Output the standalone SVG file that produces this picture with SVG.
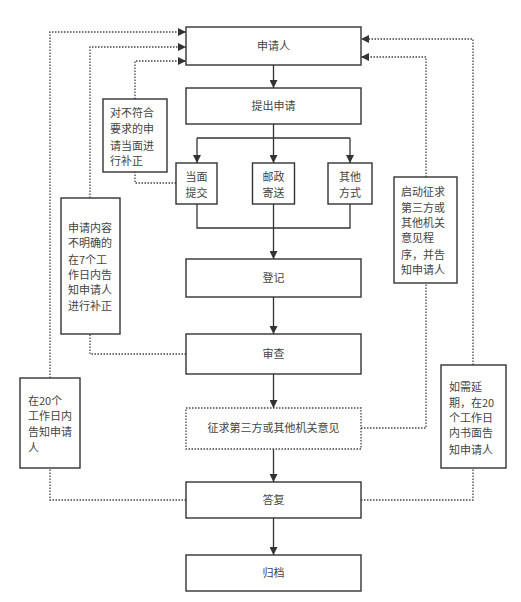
<svg xmlns="http://www.w3.org/2000/svg" width="521" height="602" viewBox="0 0 521 602">
<style>
.box{fill:#fff;stroke:#333;stroke-width:1.4}
.dbox{fill:#fff;stroke:#444;stroke-width:1.3;stroke-dasharray:1.5 1.5}
.ln{fill:none;stroke:#333;stroke-width:1.3}
.dl{fill:none;stroke:#444;stroke-width:1.3;stroke-dasharray:1.5 1.5}
text{font-family:"Noto Sans CJK SC","Noto Sans",sans-serif;font-size:11px;fill:#444}
.c{text-anchor:middle}
</style>
<defs>
<marker id="ah" viewBox="0 0 10 10" refX="10" refY="5" markerWidth="9" markerHeight="8" markerUnits="userSpaceOnUse" orient="auto"><path d="M0,0L10,5L0,10z" fill="#333"/></marker>
</defs>
<g id="connectors">
<path class="ln" d="M273.5,65V88" marker-end="url(#ah)"/>
<path class="ln" d="M273.5,124V138M197,138H350"/>
<path class="ln" d="M197,138V163" marker-end="url(#ah)"/>
<path class="ln" d="M273.5,138V163" marker-end="url(#ah)"/>
<path class="ln" d="M350,138V163" marker-end="url(#ah)"/>
<path class="ln" d="M197,204V228H350V204"/>
<path class="ln" d="M273.5,204V259" marker-end="url(#ah)"/>
<path class="ln" d="M273.5,297V334" marker-end="url(#ah)"/>
<path class="ln" d="M273.5,374V408" marker-end="url(#ah)"/>
<path class="ln" d="M273.5,449V482" marker-end="url(#ah)"/>
<path class="ln" d="M273.5,518V555" marker-end="url(#ah)"/>
<path class="dl" d="M176,183H135V172"/>
<path class="dl" d="M135,99V61H186" marker-end="url(#ah)"/>
<path class="dl" d="M186,354H90V334"/>
<path class="dl" d="M90,198V47H186" marker-end="url(#ah)"/>
<path class="dl" d="M186,500H50V468"/>
<path class="dl" d="M50,378V32H186" marker-end="url(#ah)"/>
<path class="dl" d="M361,428H426V283"/>
<path class="dl" d="M426,177V57H361" marker-end="url(#ah)"/>
<path class="dl" d="M361,500H473V468"/>
<path class="dl" d="M473,365V39H361" marker-end="url(#ah)"/>
</g>
<g id="n-applicant"><rect class="box" x="186" y="27" width="175" height="38"/><text class="c" x="273.5" y="50">申请人</text></g>
<g id="n-submit"><rect class="box" x="186" y="88" width="175" height="36"/><text class="c" x="273.5" y="110">提出申请</text></g>
<g id="n-inperson"><rect class="box" x="176" y="163" width="41" height="41"/><text class="c" x="196.5" y="181">当面</text><text class="c" x="196.5" y="197">提交</text></g>
<g id="n-post"><rect class="box" x="252.5" y="163" width="42" height="41"/><text class="c" x="273.5" y="181">邮政</text><text class="c" x="273.5" y="197">寄送</text></g>
<g id="n-other"><rect class="box" x="328" y="163" width="44" height="41"/><text class="c" x="350" y="181">其他</text><text class="c" x="350" y="197">方式</text></g>
<g id="n-register"><rect class="box" x="186" y="259" width="175" height="38"/><text class="c" x="273.5" y="282">登记</text></g>
<g id="n-review"><rect class="box" x="186" y="334" width="175" height="40"/><text class="c" x="273.5" y="358">审查</text></g>
<g id="n-consult"><rect class="dbox" x="186" y="408" width="175" height="41"/><text class="c" x="273.5" y="432">征求第三方或其他机关意见</text></g>
<g id="n-reply"><rect class="box" x="186" y="482" width="175" height="36"/><text class="c" x="273.5" y="504">答复</text></g>
<g id="n-archive"><rect class="box" x="186" y="555" width="175" height="36"/><text class="c" x="273.5" y="577">归档</text></g>
<g id="a-correct"><rect class="box" x="103" y="99" width="64" height="73"/>
<text x="110" y="117">对不符合</text><text x="110" y="133">要求的申</text><text x="110" y="150">请当面进</text><text x="110" y="165">行补正</text></g>
<g id="a-unclear"><rect class="box" x="61" y="198" width="59" height="136"/>
<text x="68" y="232">申请内容</text><text x="68" y="247">不明确的</text><text x="68" y="264">在7个工</text><text x="68" y="279">作日内告</text><text x="68" y="294">知申请人</text><text x="68" y="310">进行补正</text></g>
<g id="a-20days"><rect class="box" x="20" y="378" width="60" height="90"/>
<text x="28" y="405">在20个</text><text x="28" y="420">工作日内</text><text x="28" y="436">告知申请</text><text x="28" y="452">人</text></g>
<g id="a-thirdparty"><rect class="box" x="394" y="177" width="63" height="106"/>
<text x="401" y="196">启动征求</text><text x="401" y="212">第三方或</text><text x="401" y="227">其他机关</text><text x="401" y="242">意见程</text><text x="401" y="259">序，并告</text><text x="401" y="274">知申请人</text></g>
<g id="a-extend"><rect class="box" x="441" y="365" width="65" height="103"/>
<text x="449" y="391">如需延</text><text x="449" y="407">期，在20</text><text x="449" y="422">个工作日</text><text x="449" y="437">内书面告</text><text x="449" y="454">知申请人</text></g>
</svg>
